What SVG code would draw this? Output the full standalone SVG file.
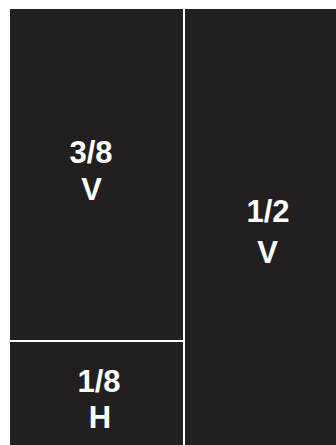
<svg xmlns="http://www.w3.org/2000/svg" width="336" height="445" viewBox="0 0 336 445">
<style>
.p{fill:#231f20}
.t{fill:#ffffff;font-family:"Liberation Sans",Arial,sans-serif;font-weight:bold;font-size:31px;text-anchor:middle}
</style>
<rect width="336" height="445" fill="#ffffff"/>
<g id="v38">
<rect class="p" x="10" y="9" width="173" height="331"/>
<text class="t" x="91" y="163">3/8</text>
<text class="t" x="91.5" y="200">V</text>
</g>
<g id="h18">
<rect class="p" x="10" y="342" width="173" height="103"/>
<text class="t" x="99" y="391.5">1/8</text>
<text class="t" x="100" y="428">H</text>
</g>
<g id="v12">
<rect class="p" x="185" y="9" width="151" height="436"/>
<text class="t" x="268" y="222">1/2</text>
<text class="t" x="267.5" y="263">V</text>
</g>
<g id="connectors"/>
</svg>
